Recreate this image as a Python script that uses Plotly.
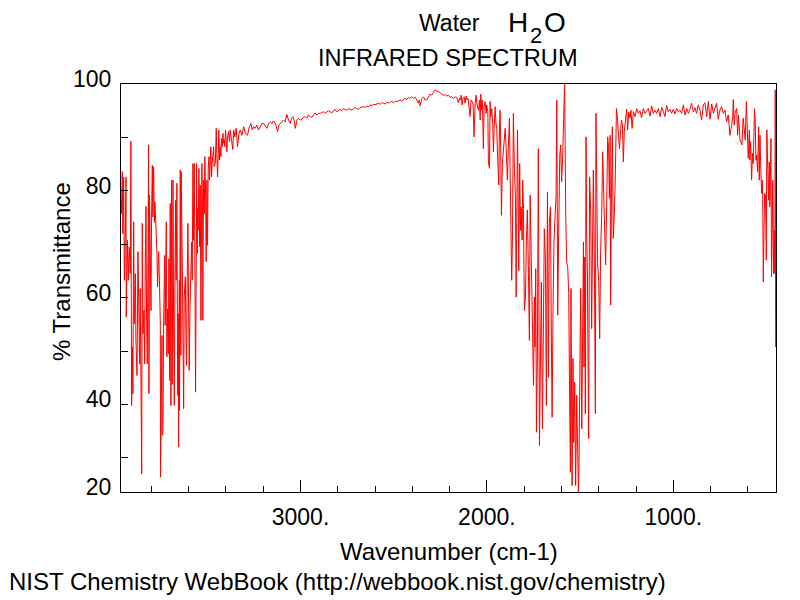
import plotly.graph_objects as go

# ---- data (wavenumber cm-1, % transmittance) ----
wavenumber = [
    3963, 3960, 3956, 3953, 3949, 3945, 3940, 3936, 3935, 3929, 3924, 3919, 3913, 3910, 3906, 3902,
    3899, 3895, 3892, 3886, 3883, 3877, 3872, 3867, 3863, 3860, 3856, 3852, 3849, 3845, 3840, 3836,
    3833, 3829, 3826, 3822, 3818, 3815, 3813, 3810, 3806, 3802, 3799, 3795, 3792, 3788, 3784, 3781,
    3777, 3774, 3770, 3767, 3761, 3756, 3752, 3751, 3747, 3743, 3742, 3738, 3734, 3729, 3726, 3720,
    3717, 3713, 3709, 3706, 3702, 3699, 3695, 3692, 3688, 3684, 3681, 3677, 3674, 3670, 3667, 3663,
    3659, 3656, 3654, 3650, 3649, 3645, 3642, 3640, 3634, 3631, 3627, 3624, 3618, 3615, 3611, 3608,
    3604, 3600, 3597, 3593, 3588, 3584, 3581, 3577, 3574, 3570, 3566, 3563, 3559, 3558, 3554, 3552,
    3549, 3545, 3541, 3538, 3534, 3529, 3525, 3524, 3520, 3516, 3513, 3509, 3506, 3502, 3499, 3495,
    3491, 3488, 3484, 3481, 3477, 3474, 3466, 3463, 3457, 3452, 3449, 3445, 3441, 3438, 3434, 3431,
    3427, 3424, 3420, 3416, 3413, 3409, 3406, 3402, 3398, 3395, 3391, 3386, 3381,
    3377, 3370, 3363, 3359, 3352, 3345, 3338, 3330, 3323, 3314, 3305, 3295, 3284, 3277, 3266, 3259,
    3252, 3243, 3234, 3225, 3216, 3207, 3198, 3189, 3180, 3171, 3162, 3153, 3145, 3134, 3123, 3116,
    3109, 3100, 3091, 3082, 3073, 3064, 3055, 3048, 3041, 3034, 3028, 3019, 3011, 3002, 2993, 2984,
    2975, 2966, 2957, 2948, 2939, 2930, 2921, 2912, 2903, 2894, 2885, 2877, 2868, 2859, 2850, 2841,
    2832, 2823, 2814, 2805, 2796, 2787, 2778, 2769, 2760, 2751, 2743, 2734, 2725, 2716, 2707, 2698,
    2689, 2680, 2671, 2662, 2653, 2644, 2635, 2626, 2617, 2609, 2600, 2591, 2582, 2573, 2564, 2555,
    2546, 2537, 2528, 2519, 2510, 2501, 2492, 2483, 2474, 2465, 2457, 2448, 2439, 2430, 2421, 2412,
    2403, 2394, 2385, 2376, 2367, 2362, 2358, 2353, 2348, 2340, 2331, 2323, 2314, 2305, 2296, 2287,
    2278, 2269, 2260, 2251, 2242, 2233, 2224, 2215, 2206, 2198, 2189, 2180, 2171, 2162, 2153, 2147,
    2144, 2138, 2133, 2128, 2122, 2117, 2112, 2106, 2101, 2095, 2090, 2085, 2079, 2074, 2069, 2063,
    2058, 2053, 2045, 2040, 2036, 2033, 2028, 2024, 2019, 2015, 2010, 2004, 2001, 1995, 1992, 1986,
    1983, 1979, 1974, 1969, 1965, 1961, 1956, 1951, 1947, 1942, 1936, 1933, 1929, 1926, 1922, 1917,
    1911, 1906, 1902, 1897, 1893, 1890, 1885, 1879, 1876, 1872, 1867, 1863, 1858, 1852, 1847, 1843,
    1840, 1836, 1833, 1829, 1824, 1820, 1817, 1811, 1808, 1804, 1799, 1793, 1788, 1783, 1777, 1772,
    1768, 1763, 1758, 1754, 1750, 1745, 1742, 1738, 1734, 1729, 1724, 1718, 1713, 1708, 1702, 1697,
    1692, 1686, 1681, 1675, 1670, 1665, 1659, 1654, 1650, 1645, 1640, 1634, 1629, 1625, 1620, 1615,
    1609, 1604, 1599, 1593, 1588, 1583, 1577, 1572, 1566, 1561, 1556, 1552, 1549, 1543, 1538, 1534,
    1529, 1524, 1518, 1515, 1509, 1506, 1500, 1497, 1491, 1486, 1482, 1479, 1475, 1472, 1468, 1465,
    1461, 1457, 1454, 1449, 1443, 1438, 1434, 1429, 1424, 1418, 1415, 1411, 1406, 1400, 1395, 1390,
    1384, 1379, 1374, 1368, 1363, 1357, 1352, 1347, 1343, 1339,
    1336, 1332, 1327, 1322, 1316, 1311, 1305, 1300, 1295, 1289, 1284, 1279, 1273, 1268, 1263, 1257,
    1250, 1245, 1239, 1232, 1227, 1221, 1214, 1205, 1196, 1188, 1179, 1170, 1161, 1152, 1143, 1134,
    1125, 1116, 1107, 1098, 1089, 1080, 1071, 1062, 1053, 1045, 1036, 1027, 1018, 1009, 1000, 991,
    982, 973, 964, 955, 946, 937, 928, 919, 911, 902, 893, 884, 875, 866, 857, 848,
    839, 830, 821, 812, 803, 794, 785, 776, 768, 759, 750, 741, 732, 723, 714, 705,
    696, 687, 682, 678, 673, 669, 660, 655, 650, 642, 637, 632, 625, 619, 614, 608,
    603, 598, 592, 589, 585, 580, 575, 571, 564, 560, 557, 553, 548, 542, 539, 535,
    532, 526, 521, 517, 514, 510, 505, 501, 498, 494, 489, 485, 482, 476, 473, 469,
    466, 462, 458, 455, 453, 451,
]

transmittance = [
    79.5, 75.75, 83.6, 72.0, 82.6, 63.25, 71.4, 82.6, 56.4, 70.75, 63.25, 69.5, 64.5, 89.3, 39.8, 50.75,
    42.0, 74.2, 55.1, 64.5, 52.0, 45.4, 68.6, 53.25, 47.6, 61.7, 41.1, 27.0, 73.9, 53.25, 57.6, 47.6,
    65.75, 77.1, 57.0, 47.6, 68.25, 88.6, 42.0, 79.2, 68.25, 57.6, 75.1, 84.8, 75.1, 84.5, 74.1, 77.9,
    74.5, 72.6, 68.25, 62.0, 68.6, 62.0, 54.8, 26.4, 47.3, 52.9, 34.2, 34.5, 55.75, 67.9, 54.8, 74.2,
    48.9, 57.9, 49.5, 67.3, 44.5, 77.6, 39.8, 82.0, 43.75, 82.0, 57.0, 39.8, 60.75, 78.25, 63.25, 81.4,
    41.7, 57.0, 32.0, 63.25, 38.9, 83.9, 49.2, 83.6, 66.1, 57.0, 39.2, 60.1, 63.9, 53.9, 47.3, 63.25,
    73.9, 57.0, 46.4, 58.25, 68.25, 70.4, 63.25, 85.1, 70.75, 85.1, 63.25, 42.3, 69.5, 85.1, 68.25, 76.7,
    72.6, 84.2, 69.5, 81.1, 55.75, 85.1, 74.5, 55.75, 82.0, 75.75, 86.4, 78.9, 66.7, 82.0, 69.8, 84.2,
    86.4, 82.0, 84.5, 88.25, 82.6, 85.1, 88.25, 84.5, 85.1, 91.7, 87.0, 82.6, 87.0, 91.4, 85.75, 88.25,
    86.4, 89.8, 88.25, 90.75, 88.9, 89.6, 88.25, 91.4, 88.9, 87.3, 90.1, 91.1, 89.2,
    91.4, 89.5, 87.75, 91.4, 90.1, 91.7, 88.25, 90.75, 91.4, 90.4, 92.0, 90.75, 90.4, 91.7, 92.6, 91.4,
    92.0, 91.7, 92.3, 91.4, 92.0, 92.6, 92.6, 92.0, 91.7, 92.6, 92.9, 92.6, 93.1, 92.6, 91.1, 92.3,
    92.6, 92.9, 93.25, 92.9, 94.3, 93.25, 92.6, 93.6, 93.9, 93.25, 91.7, 93.25, 93.6, 93.25, 93.4, 93.75,
    93.9, 93.6, 94.2, 93.9, 93.75, 94.2, 94.6, 94.2, 94.5, 94.5, 94.6, 94.8, 94.5, 94.7, 95.0, 94.8,
    94.6, 95.0, 95.25, 94.8, 95.1, 95.25, 95.0, 95.4, 95.25, 95.1, 95.4, 95.3, 95.1, 95.4, 95.6, 95.4,
    95.25, 95.6, 95.75, 95.75, 95.6, 95.9, 95.75, 96.1, 95.9, 96.25, 96.1, 96.25, 96.4, 96.2, 96.5, 96.4,
    96.25, 96.6, 96.4, 96.6, 96.75, 96.5, 96.8, 96.7, 96.9, 97.0, 96.8, 97.0, 97.3, 97.1, 97.5, 97.3,
    97.6, 97.3, 97.5, 97.0, 96.4, 97.0, 95.9, 96.7, 97.3, 97.6, 97.0, 97.0, 97.6, 98.1, 97.9, 98.5,
    98.9, 98.7, 98.6, 98.4, 98.1, 97.9, 98.0, 97.75, 97.9, 97.5, 97.6, 97.3, 97.6, 97.5, 96.5, 97.3,
    97.0, 97.9, 96.1, 97.3, 97.6, 96.4, 97.75, 97.0, 97.3, 95.1, 93.9, 97.0, 96.7, 96.1, 90.1, 96.4,
    97.9, 96.1, 95.1, 97.0, 93.25, 98.1, 95.1, 97.0, 87.9, 95.75, 96.7, 94.5, 96.1, 94.8, 85.4, 84.2,
    96.7, 93.9, 95.4, 92.6, 87.3, 91.7, 95.75, 92.6, 91.7, 85.75, 81.1, 91.4, 95.1, 88.25, 75.4, 85.1,
    87.6, 90.1, 91.7, 88.25, 85.75, 82.0, 88.25, 93.6, 85.1, 75.75, 63.25, 70.75, 94.5, 83.6, 78.9, 60.1,
    75.75, 91.4, 82.0, 65.1, 85.1, 72.6, 77.0, 70.75, 82.0, 76.7, 57.6, 60.1, 70.75, 76.4, 64.5, 52.0,
    79.2, 70.1, 64.2, 53.9, 43.6, 60.1, 50.75, 65.4, 34.8, 49.2, 87.9, 32.3, 43.9, 62.9, 35.4, 54.2,
    72.9, 67.0, 39.8, 79.8, 45.1, 73.9, 77.0, 52.0, 37.6, 58.6, 70.75, 75.4, 79.2, 97.0, 56.7, 72.0,
    86.7, 88.6, 81.7, 87.0, 92.6, 100.2, 75.4, 66.7, 65.4, 60.75, 40.75, 27.3, 61.7, 24.8, 48.6, 32.9,
    44.2, 24.8, 41.7, 31.1, 23.25, 28.6, 59.5, 61.7, 35.4, 54.8, 70.4, 47.0, 67.6, 38.25, 90.1, 72.3,
    65.4, 46.4, 33.6, 82.6, 76.1, 54.2, 72.3, 83.9, 69.2, 38.25, 94.5, 82.0, 66.4, 62.9, 52.3, 68.6,
    75.75, 87.3, 82.0, 74.5, 66.1, 78.25, 90.1, 87.9, 78.6, 90.4,
    58.6, 78.25, 92.0, 71.1, 75.75, 82.9, 95.4, 93.9, 90.4, 87.9, 90.4, 93.25, 92.6, 85.4, 91.1, 93.25,
    95.25, 91.4, 94.8, 93.6, 95.1, 91.7, 94.8, 93.9, 95.4, 94.5, 95.0, 93.7, 95.4, 94.5, 95.0, 95.4,
    94.0, 95.9, 94.5, 95.1, 94.5, 95.4, 93.9, 95.6, 94.8, 93.9, 96.0, 94.8, 95.25, 94.5, 95.25, 94.4,
    95.4, 94.8, 95.1, 94.5, 96.1, 94.2, 95.4, 94.5, 95.25, 96.4, 94.8, 95.6, 94.5, 96.1, 95.1, 93.25,
    96.1, 96.5, 93.9, 96.7, 93.4, 96.25, 94.5, 95.6, 96.4, 93.4, 95.1, 95.75, 94.5, 95.1, 92.9, 94.2,
    90.4, 92.3, 93.6, 97.1, 92.3, 94.5, 95.4, 90.4, 94.2, 89.5, 88.9, 88.6, 93.6, 91.4, 89.5, 96.7,
    88.25, 86.1, 91.4, 85.75, 89.2, 82.0, 87.0, 85.1, 95.4, 92.6, 85.75, 86.7, 83.6, 92.0, 82.0, 90.4,
    85.75, 79.5, 82.0, 62.9, 71.4, 79.5, 79.2, 67.0, 91.4, 84.8, 78.25, 85.4, 77.0, 89.8, 63.9, 73.9,
    82.0, 64.5, 72.6, 64.5, 98.9, 50.75,
]

x_range = [3963, 449]
y_range = [23.6, 100.0]
x_major_ticks = [3000, 2000, 1000]
x_major_labels = ["3000.", "2000.", "1000."]
y_tick_values = [23.6, 40, 60, 80, 100]
y_tick_labels = ["20", "40", "60", "80", "100"]

# ---- layout geometry (pixels) ----
W, H = 800, 600
L, R, T, B = 121, 24, 84, 108
PW, PH = W - L - R, H - T - B


def px(x):
    return (x - L) / PW


def py(y):
    return (H - B - y) / PH


FONT = "Liberation Sans, Arial, Helvetica, sans-serif"

fig = go.Figure()
fig.add_trace(go.Scatter(
    x=wavenumber, y=transmittance, mode="lines",
    line=dict(color="#ff0000", width=1), showlegend=False, hoverinfo="skip",
))

axis_common = dict(
    showgrid=False, zeroline=False, showline=True, linecolor="black", linewidth=1,
    mirror=True, ticks="inside", tickcolor="black", tickwidth=1,
    tickfont=dict(family=FONT, size=23, color="black"),
)

fig.update_xaxes(
    **axis_common, range=x_range, tickmode="array", tickvals=x_major_ticks,
    ticktext=x_major_labels, ticklen=12, ticklabelstandoff=4,
    minor=dict(tickmode="linear", tick0=0, dtick=200, ticks="inside", ticklen=6,
               tickcolor="black", tickwidth=1),
)
fig.update_yaxes(
    **axis_common, range=y_range, tickmode="array", tickvals=y_tick_values,
    ticktext=y_tick_labels, ticklen=7, ticklabelshift=-5, ticklabelstandoff=4,
    minor=dict(tickmode="linear", tick0=0, dtick=10, ticks="inside", ticklen=7,
               tickcolor="black", tickwidth=1),
)

ann = []


def add_text(text, x, y, size, xanchor="center", angle=0):
    ann.append(dict(text=text, x=px(x), y=py(y), xref="paper", yref="paper",
                    xanchor=xanchor, yanchor="middle", showarrow=False, textangle=angle,
                    borderpad=0, font=dict(family=FONT, size=size, color="black")))


add_text("Water", 449, 23, 23)
add_text("H", 518, 22, 28)
add_text("2", 536, 36, 22)
add_text("O", 555, 22, 28)
add_text("INFRARED SPECTRUM", 448, 58, 23.6)
add_text("% Transmittance", 61, 272, 24, angle=-90)
add_text("Wavenumber (cm-1)", 449, 551, 24)
add_text("NIST Chemistry WebBook (http://webbook.nist.gov/chemistry)", 8, 581, 24, xanchor="left")

fig.update_layout(
    width=W, height=H, margin=dict(l=L, r=R, t=T, b=B),
    paper_bgcolor="white", plot_bgcolor="white", annotations=ann,
)

fig.write_html("out.html", config={"displayModeBar": False},
               post_script="document.body.style.margin='0';")
